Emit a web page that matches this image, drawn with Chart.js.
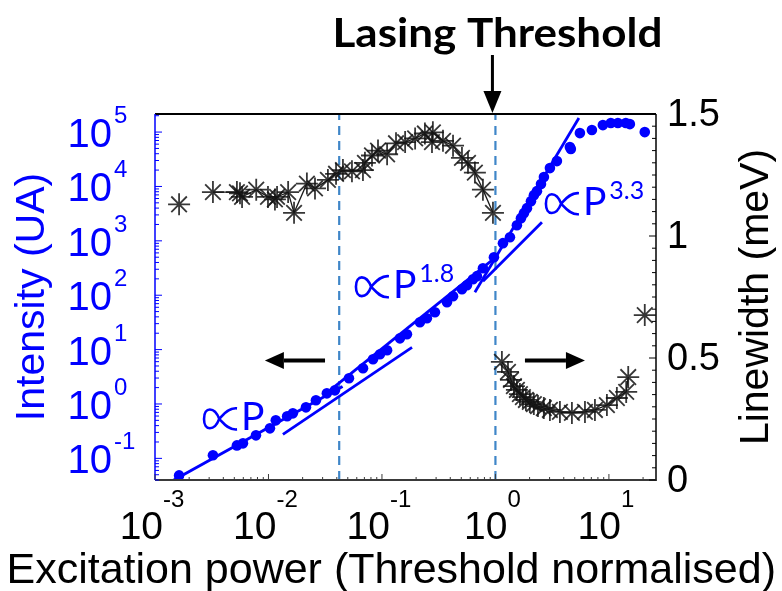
<!DOCTYPE html>
<html>
<head>
<meta charset="utf-8">
<script src="https://cdn.jsdelivr.net/npm/chart.js@4.4.0/dist/chart.umd.min.js"></script>
<style>
  html, body { margin: 0; padding: 0; background: #fff; }
  #wrap { position: relative; width: 782px; height: 591px; }
</style>
</head>
<body>
<div id="wrap"><canvas id="chart" width="782" height="591"></canvas></div>
<script>
// integrated intensity (blue dots) vs normalised excitation power
const powerI = [0.00163, 0.00324, 0.00527, 0.00596, 0.00776, 0.0103, 0.0116, 0.0146, 0.0164, 0.0214,
  0.0262, 0.0327, 0.0385, 0.0512, 0.0681, 0.0834, 0.096, 0.111, 0.144, 0.166,
  0.216, 0.249, 0.293, 0.374, 0.423, 0.507, 0.561, 0.634, 0.687, 0.776,
  0.97, 1.165, 1.342, 1.546, 1.678, 1.782, 1.896, 2.056, 2.183, 2.32,
  2.52, 2.674, 3.02, 3.48, 4.53, 4.62, 5.55, 7.08, 8.85, 10.4,
  12.0, 14.1, 15.3, 20.7];
const intensity = [0.0486, 0.114, 0.173, 0.189, 0.265, 0.356, 0.5, 0.593, 0.673, 0.867,
  1.17, 1.57, 1.78, 2.97, 4.53, 6.63, 8.2, 9.72, 16.1, 19.1,
  31.8, 37.7, 48.6, 74.3, 95.7, 129, 153, 197, 224, 314,
  500, 906, 1167, 1941, 2612, 3228, 3990, 5370, 6920, 8200,
  11040, 14860, 21740, 29250, 52950, 49000, 95700, 108900, 134500, 146500,
  146500, 146500, 140300, 100000];

// linewidth in meV (black asterisks), right axis
const powerLw = [0.00163, 0.00324, 0.00527, 0.00561, 0.00585, 0.0078, 0.0099, 0.0114, 0.0119, 0.0149,
  0.0168, 0.0218, 0.0257, 0.0334, 0.0394, 0.0453, 0.0544, 0.068, 0.0708, 0.0817,
  0.0923, 0.111, 0.133, 0.16, 0.196, 0.239, 0.276, 0.281, 0.345, 0.423,
  0.507, 0.573, 0.659, 0.776, 0.951,
  1.14, 1.29, 1.37, 1.455, 1.546, 1.643, 1.746, 1.856, 2.01, 2.18,
  2.37, 2.67, 3.02, 3.7, 4.72, 6.15, 7.53, 9.6, 11.75, 14.2,
  14.8, 20.7];
const linewidth = [1.13, 1.18, 1.18, 1.175, 1.16, 1.19, 1.16, 1.15, 1.16, 1.18,
  1.095, 1.215, 1.195, 1.23, 1.255, 1.27, 1.265, 1.27, 1.3, 1.33,
  1.35, 1.335, 1.38, 1.385, 1.4, 1.42, 1.385, 1.425, 1.39, 1.37,
  1.32, 1.3, 1.26, 1.19, 1.095,
  0.484, 0.443, 0.41, 0.385, 0.369, 0.352, 0.34, 0.328, 0.32, 0.311,
  0.303, 0.295, 0.287, 0.279, 0.275, 0.279, 0.287, 0.307, 0.336, 0.361,
  0.422, 0.676];
// the joining line is broken after these points
const lwBreaks = [0, 34, 55];

// power-law guide lines [x0, x1], [y0, y1]
const fitLinX = [0.00144, 0.045], fitLinY = [0.039, 2.1];
const fitLowX = [0.0134, 0.184], fitLowY = [0.276, 11.0];
const fitMidX = [0.0348, 1.01], fitMidY = [1.78, 500];
const fitHighX = [0.776, 2.57], fitHighY = [181, 2205];
const fitSteepX = [0.659, 5.44], fitSteepY = [113.5, 181000];

// dashed markers (regime boundaries)
const markerPower = [0.042, 1];
const thresholdPower = 1;

// axis ticks
const xDecades = [-3, -2, -1, 0, 1];
const yDecades = [-1, 0, 1, 2, 3, 4, 5];
const lwTicks = [0, 0.5, 1, 1.5];
const lwTickLabels = ['0', '0.5', '1', '1.5'];

const BLUE = '#0000ff';
const DASH = '#3f86c8';
const STAR = '#1a1a1a';
const ARIAL = '"Liberation Sans", Arial, sans-serif';
const CALI = 'Lato, "DejaVu Sans", sans-serif';

const pts = (xs, ys) => xs.map((x, i) => ({ x: x, y: ys[i] }));

const fitLine = (xs, ys) => ({
  data: pts(xs, ys), yAxisID: 'y', showLine: true, pointRadius: 0,
  borderColor: BLUE, borderWidth: 2.8
});

function arrow(ctx, x0, y0, x1, y1, head, half, width) {
  const a = Math.atan2(y1 - y0, x1 - x0);
  const bx = x1 - Math.cos(a) * head, by = y1 - Math.sin(a) * head;
  ctx.beginPath();
  ctx.lineWidth = width;
  ctx.moveTo(x0, y0);
  ctx.lineTo(bx, by);
  ctx.stroke();
  ctx.beginPath();
  ctx.moveTo(x1, y1);
  ctx.lineTo(bx + Math.sin(a) * half, by - Math.cos(a) * half);
  ctx.lineTo(bx - Math.sin(a) * half, by + Math.cos(a) * half);
  ctx.closePath();
  ctx.fill();
}

// thin "proportional to" sign, left edge x, baseline y
function propSign(ctx, x, y, w, h) {
  const top = y - h, bot = y, m = y - h / 2;
  ctx.beginPath();
  ctx.moveTo(x + w, top + 1);
  ctx.bezierCurveTo(x + w * 0.72, top, x + w * 0.56, m - 3, x + w * 0.46, m);
  ctx.bezierCurveTo(x + w * 0.32, bot + 1, x, bot + 1, x, m);
  ctx.bezierCurveTo(x, top - 1, x + w * 0.32, top - 1, x + w * 0.46, m);
  ctx.bezierCurveTo(x + w * 0.56, m + 3, x + w * 0.72, bot, x + w, bot - 1);
  ctx.lineWidth = 2.6;
  ctx.stroke();
}

// ∝P label with optional exponent
function powerLabel(ctx, x, y, exp) {
  ctx.fillStyle = BLUE;
  ctx.strokeStyle = BLUE;
  ctx.textAlign = 'left';
  ctx.textBaseline = 'alphabetic';
  propSign(ctx, x + 1, y, 33, 23);
  let w = 38;
  ctx.font = '39px ' + CALI;
  ctx.fillText('P', x + w, y);
  w += ctx.measureText('P').width;
  if (exp) {
    ctx.font = '25px ' + CALI;
    ctx.fillText(exp, x + w + 3, y - 16);
  }
}

const axesPlugin = {
  id: 'axesPlugin',
  afterDatasetsDraw(chart) {
    const ctx = chart.ctx;
    const a = chart.chartArea;
    const sx = chart.scales.x, sy = chart.scales.y, sy2 = chart.scales.y2;
    ctx.save();

    // frame
    ctx.lineCap = 'butt';
    ctx.strokeStyle = '#000';
    ctx.lineWidth = 2;
    ctx.beginPath(); ctx.moveTo(a.left, a.top); ctx.lineTo(a.right, a.top); ctx.stroke();
    ctx.lineWidth = 1.5;
    ctx.beginPath(); ctx.moveTo(a.right, a.top); ctx.lineTo(a.right, a.bottom); ctx.stroke();
    ctx.strokeStyle = '#3a3a3a';
    ctx.lineWidth = 2;
    ctx.beginPath(); ctx.moveTo(a.left, a.bottom); ctx.lineTo(a.right + 1, a.bottom); ctx.stroke();
    ctx.strokeStyle = BLUE;
    ctx.lineWidth = 1.5;
    ctx.beginPath(); ctx.moveTo(a.left, a.top); ctx.lineTo(a.left, a.bottom); ctx.stroke();

    // log ticks, bottom and left
    ctx.lineWidth = 1;
    xDecades.forEach(d => {
      for (let m = 1; m <= 9; m++) {
        const v = m * Math.pow(10, d);
        if (v < sx.min || v > sx.max) continue;
        const px = sx.getPixelForValue(v);
        ctx.strokeStyle = '#3a3a3a';
        ctx.beginPath(); ctx.moveTo(px, a.bottom); ctx.lineTo(px, a.bottom - (m === 1 ? 6 : 3)); ctx.stroke();
      }
    });
    [-2].concat(yDecades).forEach(d => {
      for (let m = 1; m <= 9; m++) {
        const v = m * Math.pow(10, d);
        if (v < sy.min || v > sy.max) continue;
        const py = sy.getPixelForValue(v);
        ctx.strokeStyle = BLUE;
        ctx.beginPath(); ctx.moveTo(a.left, py); ctx.lineTo(a.left + (m === 1 ? 7 : 4), py); ctx.stroke();
      }
    });
    // right linear ticks every 0.05
    ctx.strokeStyle = '#000';
    for (let i = 0; i <= 30; i++) {
      const v = i * 0.05;
      const py = sy2.getPixelForValue(v);
      ctx.beginPath(); ctx.moveTo(a.right, py); ctx.lineTo(a.right - (i % 10 === 0 ? 7 : 4), py); ctx.stroke();
    }

    // tick labels
    ctx.textBaseline = 'alphabetic';
    xDecades.forEach(d => {
      const px = sx.getPixelForValue(Math.pow(10, d));
      ctx.font = '39px ' + ARIAL;
      const wb = ctx.measureText('10').width;
      ctx.font = '24px ' + ARIAL;
      const ws = ctx.measureText(String(d)).width;
      const x0 = px - (wb + ws) / 2 - 3;
      ctx.fillStyle = '#000';
      ctx.textAlign = 'left';
      ctx.font = '39px ' + ARIAL;
      ctx.fillText('10', x0, a.bottom + 59);
      ctx.font = '24px ' + ARIAL;
      ctx.fillText(String(d), x0 + wb, a.bottom + 27);
    });
    yDecades.forEach(d => {
      const py = sy.getPixelForValue(Math.pow(10, d));
      ctx.fillStyle = BLUE;
      ctx.textAlign = 'right';
      ctx.font = '40px ' + ARIAL;
      ctx.fillText('10', 112, py + 15);
      ctx.textAlign = 'left';
      ctx.font = '24px ' + ARIAL;
      ctx.fillText(String(d), 114, py - 9);
    });
    lwTicks.forEach((v, i) => {
      const py = sy2.getPixelForValue(v);
      ctx.fillStyle = '#000';
      ctx.textAlign = 'left';
      ctx.textBaseline = 'middle';
      ctx.font = '38px ' + ARIAL;
      ctx.fillText(lwTickLabels[i], a.right + 11, py + 2);
    });

    // axis titles
    ctx.textBaseline = 'middle';
    ctx.textAlign = 'center';
    ctx.font = '41px ' + ARIAL;
    ctx.save();
    ctx.translate(33, (a.top + a.bottom) / 2);
    ctx.rotate(-Math.PI / 2);
    ctx.fillStyle = BLUE;
    ctx.fillText('Intensity (UA)', 0, 0);
    ctx.restore();
    ctx.save();
    ctx.translate(757, (a.top + a.bottom) / 2);
    ctx.rotate(-Math.PI / 2);
    ctx.fillStyle = '#000';
    ctx.fillText('Linewidth (meV)', 0, 0);
    ctx.restore();
    ctx.fillStyle = '#000';
    ctx.textAlign = 'right';
    ctx.textBaseline = 'alphabetic';
    ctx.font = '43px ' + ARIAL;
    ctx.fillText('Excitation power (Threshold normalised)', 776, 583);

    // threshold title and arrow
    const tx = sx.getPixelForValue(thresholdPower);
    ctx.save();
    ctx.translate(tx + 2, 47);
    ctx.scale(1.1, 1);
    ctx.textAlign = 'center';
    ctx.font = 'bold 40px ' + CALI;
    ctx.fillText('Lasing Threshold', 0, 0);
    ctx.restore();
    ctx.fillStyle = '#000';
    ctx.strokeStyle = '#000';
    arrow(ctx, tx - 3, 55, tx - 3, a.top - 1, 22, 9, 3);

    // direction arrows
    const ly = sy2.getPixelForValue(0.49);
    arrow(ctx, sx.getPixelForValue(0.0315), ly, sx.getPixelForValue(0.0093), ly, 19, 8.5, 4);
    arrow(ctx, sx.getPixelForValue(1.82), ly, sx.getPixelForValue(6.15), ly, 19, 8.5, 4);

    // power-law labels
    powerLabel(ctx, sx.getPixelForValue(0.00265), sy.getPixelForValue(0.327), '');
    powerLabel(ctx, sx.getPixelForValue(0.0578), sy.getPixelForValue(88), '1.8');
    powerLabel(ctx, sx.getPixelForValue(2.73), sy.getPixelForValue(2965), '3.3');

    ctx.restore();
  }
};

new Chart(document.getElementById('chart'), {
  type: 'scatter',
  data: {
    datasets: [
      {
        data: pts(powerI, intensity), yAxisID: 'y',
        pointRadius: 5.3, pointBackgroundColor: BLUE, pointBorderColor: BLUE, pointBorderWidth: 0
      },
      fitLine(fitLinX, fitLinY),
      fitLine(fitLowX, fitLowY),
      fitLine(fitMidX, fitMidY),
      fitLine(fitHighX, fitHighY),
      fitLine(fitSteepX, fitSteepY),
      {
        data: pts(powerLw, linewidth), yAxisID: 'y2', showLine: true,
        borderColor: STAR, borderWidth: 1.3,
        segment: { borderColor: c => lwBreaks.includes(c.p0DataIndex) ? 'rgba(0,0,0,0)' : STAR },
        pointStyle: 'star', pointRadius: 11, pointBorderColor: 'rgba(20,20,20,0.85)', pointBorderWidth: 1.8
      },
      ...markerPower.map(p => ({
        data: [{ x: p, y: 0 }, { x: p, y: 1.5 }], yAxisID: 'y2', showLine: true,
        pointRadius: 0, borderColor: DASH, borderWidth: 2.2, borderDash: [9, 6]
      }))
    ]
  },
  options: {
    responsive: false,
    animation: false,
    layout: { padding: { left: 155, top: 114, right: 126, bottom: 111 } },
    plugins: { legend: { display: false }, tooltip: { enabled: false } },
    scales: {
      x: { type: 'logarithmic', min: 0.001, max: 26, display: false },
      y: { type: 'logarithmic', min: 0.04, max: 215000, display: false },
      y2: { type: 'linear', min: 0, max: 1.5, display: false }
    }
  },
  plugins: [axesPlugin]
});
</script>
</body>
</html>
